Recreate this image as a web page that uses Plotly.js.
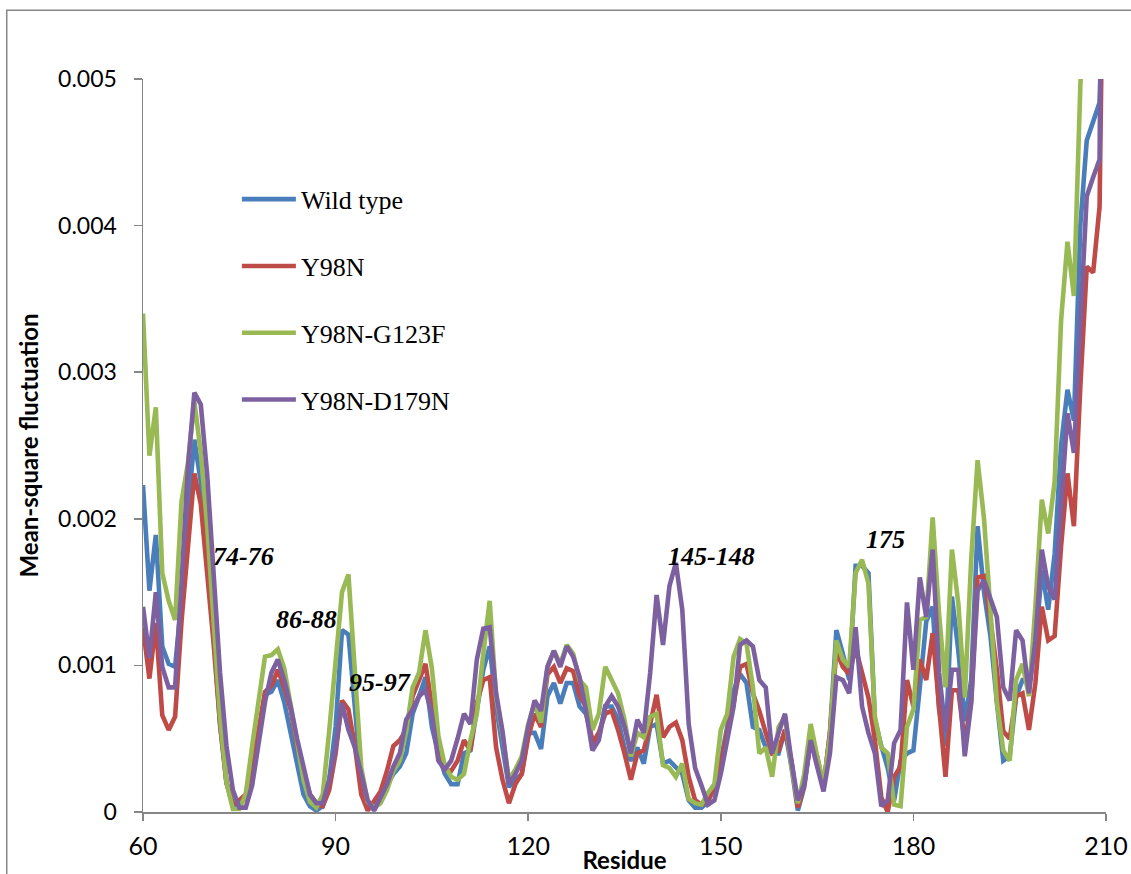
<!DOCTYPE html>
<html>
<head>
<meta charset="utf-8">
<script src="https://cdn.plot.ly/plotly-3.0.1.min.js"></script>
<style>
  html, body { margin: 0; padding: 0; background: #ffffff; }
  #chart { width: 1131px; height: 874px; }
</style>
</head>
<body>
<div id="chart"></div>
<script>
// Residue numbers along the x axis
const residues = [
  60, 61, 62, 63, 64, 65, 66, 67, 68, 69,
  70, 71, 72, 73, 74, 75, 76, 77, 78, 79,
  80, 81, 82, 83, 84, 85, 86, 87, 88, 89,
  90, 91, 92, 93, 94, 95, 96, 97, 98, 99,
  100, 101, 102, 103, 104, 105, 106, 107, 108, 109,
  110, 111, 112, 113, 114, 115, 116, 117, 118, 119,
  120, 121, 122, 123, 124, 125, 126, 127, 128, 129,
  130, 131, 132, 133, 134, 135, 136, 137, 138, 139,
  140, 141, 142, 143, 144, 145, 146, 147, 148, 149,
  150, 151, 152, 153, 154, 155, 156, 157, 158, 159,
  160, 161, 162, 163, 164, 165, 166, 167, 168, 169,
  170, 171, 172, 173, 174, 175, 176, 177, 178, 179,
  180, 181, 182, 183, 184, 185, 186, 187, 188, 189,
  190, 191, 192, 193, 194, 195, 196, 197, 198, 199,
  200, 201, 202, 203, 204, 205, 206, 207, 208, 209, 210
];

// Mean-square fluctuation per residue
const wildType = [
  0.00223, 0.00151, 0.00189, 0.00113, 0.00101, 0.00099, 0.00145, 0.00205, 0.00254, 0.00225,
  0.00170, 0.00120, 0.00060, 0.00020, 0.00005, 0.00005, 0.00010, 0.00035, 0.00055, 0.00080,
  0.00082, 0.00090, 0.00075, 0.00055, 0.00033, 0.00012, 0.00004, 0.00001, 0.00004, 0.00022,
  0.00058, 0.00124, 0.00121, 0.00072, 0.00022, 0.00004, 0.00002, 0.00008, 0.00018, 0.00026,
  0.00031, 0.00040, 0.00067, 0.00079, 0.00092, 0.00058, 0.00040, 0.00026, 0.00019, 0.00019,
  0.00040, 0.00042, 0.00072, 0.00097, 0.00113, 0.00072, 0.00044, 0.00017, 0.00022, 0.00026,
  0.00054, 0.00054, 0.00043, 0.00079, 0.00088, 0.00074, 0.00088, 0.00088, 0.00072, 0.00067,
  0.00049, 0.00051, 0.00072, 0.00072, 0.00063, 0.00044, 0.00035, 0.00044, 0.00033, 0.00058,
  0.00060, 0.00033, 0.00035, 0.00030, 0.00026, 0.00008, 0.00003, 0.00003, 0.00007, 0.00017,
  0.00035, 0.00058, 0.00083, 0.00094, 0.00088, 0.00058, 0.00056, 0.00044, 0.00040, 0.00040,
  0.00056, 0.00031, 0.00001, 0.00017, 0.00049, 0.00035, 0.00017, 0.00054, 0.00124, 0.00108,
  0.00090, 0.00168, 0.00168, 0.00163, 0.00063, 0.00045, 0.00030, 0.00008, 0.00035, 0.00040,
  0.00042, 0.00085, 0.00130, 0.00140, 0.00070, 0.00045, 0.00147, 0.00110, 0.00062, 0.00090,
  0.00195, 0.00150, 0.00120, 0.00075, 0.00035, 0.00038, 0.00079, 0.00090, 0.00090, 0.00113,
  0.00165, 0.00138, 0.00176, 0.00250, 0.00288, 0.00267, 0.00400, 0.00458, 0.00472, 0.00484, 0.00600
];

const y98n = [
  0.00126, 0.00091, 0.00129, 0.00066, 0.00056, 0.00065, 0.00130, 0.00185, 0.00231, 0.00210,
  0.00165, 0.00115, 0.00060, 0.00020, 0.00005, 0.00008, 0.00012, 0.00030, 0.00055, 0.00082,
  0.00086, 0.00097, 0.00085, 0.00070, 0.00045, 0.00028, 0.00012, 0.00006, 0.00004, 0.00015,
  0.00040, 0.00076, 0.00070, 0.00045, 0.00012, 0.00001, 0.00008, 0.00014, 0.00028, 0.00045,
  0.00049, 0.00056, 0.00079, 0.00090, 0.00101, 0.00072, 0.00044, 0.00029, 0.00028, 0.00035,
  0.00049, 0.00042, 0.00074, 0.00090, 0.00092, 0.00044, 0.00022, 0.00006, 0.00019, 0.00026,
  0.00051, 0.00067, 0.00058, 0.00094, 0.00099, 0.00088, 0.00098, 0.00096, 0.00079, 0.00072,
  0.00047, 0.00054, 0.00067, 0.00069, 0.00056, 0.00040, 0.00022, 0.00040, 0.00042, 0.00060,
  0.00080, 0.00051, 0.00058, 0.00061, 0.00049, 0.00024, 0.00008, 0.00005, 0.00008, 0.00017,
  0.00033, 0.00054, 0.00074, 0.00099, 0.00101, 0.00081, 0.00069, 0.00054, 0.00040, 0.00042,
  0.00056, 0.00035, 0.00003, 0.00019, 0.00049, 0.00038, 0.00017, 0.00054, 0.00110, 0.00099,
  0.00094, 0.00112, 0.00094, 0.00078, 0.00049, 0.00010, 0.00000, 0.00024, 0.00031, 0.00090,
  0.00072, 0.00104, 0.00090, 0.00122, 0.00072, 0.00024, 0.00083, 0.00083, 0.00047, 0.00076,
  0.00160, 0.00161, 0.00131, 0.00097, 0.00055, 0.00050, 0.00079, 0.00081, 0.00056, 0.00088,
  0.00140, 0.00117, 0.00120, 0.00181, 0.00231, 0.00195, 0.00290, 0.00372, 0.00368, 0.00413, 0.00750
];

const y98nG123f = [
  0.00340, 0.00243, 0.00276, 0.00163, 0.00144, 0.00131, 0.00212, 0.00238, 0.00280, 0.00245,
  0.00195, 0.00135, 0.00065, 0.00020, 0.00002, 0.00002, 0.00012, 0.00045, 0.00075, 0.00106,
  0.00107, 0.00111, 0.00098, 0.00075, 0.00048, 0.00022, 0.00007, 0.00003, 0.00012, 0.00055,
  0.00105, 0.00150, 0.00162, 0.00090, 0.00030, 0.00007, 0.00003, 0.00006, 0.00015, 0.00028,
  0.00035, 0.00055, 0.00085, 0.00095, 0.00124, 0.00098, 0.00052, 0.00032, 0.00024, 0.00022,
  0.00026, 0.00049, 0.00067, 0.00108, 0.00144, 0.00079, 0.00053, 0.00022, 0.00029, 0.00038,
  0.00060, 0.00074, 0.00061, 0.00099, 0.00110, 0.00101, 0.00114, 0.00108, 0.00090, 0.00085,
  0.00056, 0.00067, 0.00099, 0.00090, 0.00081, 0.00063, 0.00038, 0.00054, 0.00051, 0.00065,
  0.00067, 0.00032, 0.00030, 0.00024, 0.00033, 0.00009, 0.00006, 0.00005, 0.00013, 0.00019,
  0.00056, 0.00067, 0.00106, 0.00118, 0.00115, 0.00085, 0.00040, 0.00044, 0.00024, 0.00058,
  0.00065, 0.00031, 0.00006, 0.00026, 0.00060, 0.00038, 0.00019, 0.00051, 0.00117, 0.00104,
  0.00099, 0.00163, 0.00172, 0.00156, 0.00065, 0.00044, 0.00040, 0.00005, 0.00004, 0.00058,
  0.00070, 0.00131, 0.00133, 0.00201, 0.00135, 0.00085, 0.00179, 0.00142, 0.00078, 0.00172,
  0.00240, 0.00200, 0.00135, 0.00075, 0.00042, 0.00035, 0.00090, 0.00101, 0.00079, 0.00140,
  0.00213, 0.00190, 0.00225, 0.00335, 0.00389, 0.00352, 0.00495, 0.00650, 0.00700, 0.00750, 0.00800
];

const y98nD179n = [
  0.00140, 0.00105, 0.00150, 0.00099, 0.00085, 0.00085, 0.00156, 0.00235, 0.00286, 0.00278,
  0.00230, 0.00165, 0.00095, 0.00045, 0.00015, 0.00003, 0.00003, 0.00018, 0.00045, 0.00075,
  0.00095, 0.00104, 0.00090, 0.00072, 0.00050, 0.00030, 0.00012, 0.00006, 0.00006, 0.00022,
  0.00044, 0.00074, 0.00056, 0.00044, 0.00026, 0.00008, 0.00001, 0.00010, 0.00019, 0.00031,
  0.00040, 0.00063, 0.00070, 0.00079, 0.00083, 0.00067, 0.00035, 0.00029, 0.00035, 0.00050,
  0.00067, 0.00060, 0.00104, 0.00125, 0.00126, 0.00081, 0.00055, 0.00019, 0.00026, 0.00035,
  0.00058, 0.00076, 0.00069, 0.00099, 0.00110, 0.00099, 0.00113, 0.00106, 0.00092, 0.00069,
  0.00042, 0.00049, 0.00072, 0.00079, 0.00072, 0.00058, 0.00040, 0.00063, 0.00054, 0.00095,
  0.00148, 0.00114, 0.00154, 0.00170, 0.00138, 0.00060, 0.00030, 0.00018, 0.00005, 0.00008,
  0.00026, 0.00049, 0.00072, 0.00114, 0.00117, 0.00113, 0.00090, 0.00085, 0.00040, 0.00054,
  0.00067, 0.00035, 0.00008, 0.00019, 0.00049, 0.00031, 0.00014, 0.00040, 0.00092, 0.00090,
  0.00081, 0.00126, 0.00072, 0.00054, 0.00040, 0.00004, 0.00008, 0.00047, 0.00056, 0.00143,
  0.00097, 0.00160, 0.00133, 0.00179, 0.00095, 0.00055, 0.00097, 0.00097, 0.00038, 0.00074,
  0.00151, 0.00158, 0.00146, 0.00133, 0.00085, 0.00076, 0.00124, 0.00117, 0.00081, 0.00117,
  0.00179, 0.00154, 0.00145, 0.00211, 0.00272, 0.00245, 0.00330, 0.00420, 0.00433, 0.00445, 0.01000
];

const seriesNames = ['Wild type', 'Y98N', 'Y98N-G123F', 'Y98N-D179N'];
const seriesValues = [wildType, y98n, y98nG123f, y98nD179n];
const seriesColors = ['#4A7EBB', '#BE4B48', '#98B954', '#7D60A0'];

// Residue ranges marked on the plot
const regionLabels = ['74-76', '86-88', '95-97', '145-148', '175'];

const traces = seriesNames.map((name, i) => ({
  type: 'scatter',
  mode: 'lines',
  name: name,
  legendgroup: name,
  x: residues,
  y: seriesValues[i],
  line: { color: seriesColors[i], width: 4.6, shape: 'linear' },
  hoverinfo: 'x+y+name'
}));

const labelFont = {
  family: '"Liberation Serif", "Times New Roman", serif',
  size: 26,
  color: '#000000',
  weight: 'bold',
  style: 'italic'
};
const labelSpots = [
  { x: 75.6, y: 0.00174 },
  { x: 85.5, y: 0.00131 },
  { x: 96.9, y: 0.00088 },
  { x: 148.6, y: 0.00174 },
  { x: 175.7, y: 0.00186 }
];
const annotations = regionLabels.map((t, i) => ({
  x: labelSpots[i].x,
  y: labelSpots[i].y,
  xref: 'x',
  yref: 'y',
  text: t,
  showarrow: false,
  font: labelFont,
  xanchor: 'center',
  yanchor: 'middle'
}));

const axisGrey = '#868686';
const sans = 'Lato, "Open Sans", "Liberation Sans", sans-serif';

const layout = {
  width: 1131,
  height: 874,
  margin: { l: 143, r: 25, t: 79, b: 62, pad: 0 },
  paper_bgcolor: '#ffffff',
  plot_bgcolor: '#ffffff',
  showlegend: true,
  legend: {
    x: 0.0975,
    y: 0.868,
    xanchor: 'left',
    yanchor: 'top',
    bgcolor: 'rgba(0,0,0,0)',
    borderwidth: 0,
    itemwidth: 54,
    tracegroupgap: 30,
    traceorder: 'grouped',
    font: { family: '"Liberation Serif", "Times New Roman", serif', size: 26, color: '#000000' }
  },
  xaxis: {
    range: [60, 210],
    tick0: 60,
    dtick: 30,
    showgrid: false,
    zeroline: false,
    showline: true,
    linecolor: axisGrey,
    linewidth: 1.5,
    ticks: 'outside',
    ticklen: 7,
    tickwidth: 1.5,
    tickcolor: axisGrey,
    ticklabelstandoff: 4,
    tickfont: { family: sans, size: 25, color: '#000000' },
    title: {
      text: 'Residue',
      standoff: 0,
      font: { family: sans, size: 24, color: '#000000', weight: 'bold' }
    },
    automargin: false,
    fixedrange: true
  },
  yaxis: {
    range: [0, 0.005],
    tick0: 0,
    dtick: 0.001,
    showgrid: false,
    zeroline: false,
    showline: true,
    linecolor: axisGrey,
    linewidth: 1.5,
    ticks: 'outside',
    ticklen: 8,
    tickwidth: 1.5,
    tickcolor: axisGrey,
    ticklabelstandoff: 12,
    tickfont: { family: sans, size: 23, color: '#000000' },
    title: {
      text: 'Mean-square fluctuation',
      standoff: 12,
      font: { family: sans, size: 24, color: '#000000', weight: 'bold' }
    },
    automargin: false,
    fixedrange: true
  },
  shapes: [
    {
      type: 'rect',
      xref: 'paper',
      yref: 'paper',
      x0: -0.1415,
      x1: 1.04,
      y0: -0.1,
      y1: 1.0939,
      line: { color: axisGrey, width: 1.5 },
      fillcolor: 'rgba(0,0,0,0)',
      layer: 'below'
    }
  ],
  annotations: annotations
};

Plotly.newPlot('chart', traces, layout, { displayModeBar: false, staticPlot: true });
</script>
</body>
</html>
